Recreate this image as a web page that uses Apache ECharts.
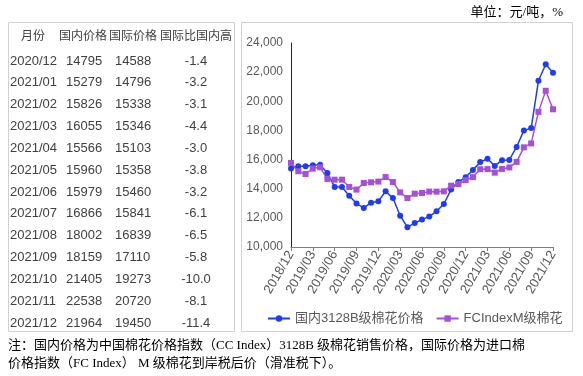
<!DOCTYPE html>
<html>
<head>
<meta charset="utf-8">
<script src="https://cdn.jsdelivr.net/npm/echarts@6/dist/echarts.min.js"></script>
<style>
  html, body { margin: 0; padding: 0; background: #fff; }
  #main { width: 583px; height: 376px; }
</style>
</head>
<body>
<div id="main"></div>
<script>
// 月份（横轴）
const months = [
  '2018/12',
  '2019/01','2019/02','2019/03','2019/04','2019/05','2019/06',
  '2019/07','2019/08','2019/09','2019/10','2019/11','2019/12',
  '2020/01','2020/02','2020/03','2020/04','2020/05','2020/06',
  '2020/07','2020/08','2020/09','2020/10','2020/11','2020/12',
  '2021/01','2021/02','2021/03','2021/04','2021/05','2021/06',
  '2021/07','2021/08','2021/09','2021/10','2021/11','2021/12'
];
// 国内3128B级棉花价格
const domestic = [
  15380, 15540, 15540, 15610, 15650, 15080, 14120, 14120, 13520, 12980,
  12680, 13040, 13140, 13820, 13360, 12150, 11350, 11650, 11880, 12100,
  12450, 12950, 13940, 14460, 14795, 15279, 15826, 16055, 15566, 15960,
  15979, 16866, 18002, 18159, 21405, 22538, 21964
];
// FCIndexM级棉花
const intl = [
  15770, 15200, 15010, 15380, 15470, 14670, 14620, 14620, 14120, 13940,
  14390, 14440, 14490, 14800, 14460, 13750, 13360, 13660, 13710, 13800,
  13800, 13820, 14210, 14325, 14588, 14796, 15338, 15346, 15103, 15358,
  15460, 15841, 16839, 17110, 19273, 20720, 19450
];

// 左侧表格
const tableHead = ['月份', '国内价格', '国际价格', '国际比国内高'];
const tableMonths = ['2020/12','2021/01','2021/02','2021/03','2021/04','2021/05','2021/06',
  '2021/07','2021/08','2021/09','2021/10','2021/11','2021/12'];
const tableDomestic = ['14795','15279','15826','16055','15566','15960','15979',
  '16866','18002','18159','21405','22538','21964'];
const tableIntl = ['14588','14796','15338','15346','15103','15358','15460',
  '15841','16839','17110','19273','20720','19450'];
const tableDiff = ['-1.4','-3.2','-3.1','-4.4','-3.0','-3.8','-3.2',
  '-6.1','-6.5','-5.8','-10.0','-8.1','-11.4'];

const sans = '"Liberation Sans", "Noto Sans CJK SC", sans-serif';
const serif = '"Liberation Serif", "Noto Sans CJK SC", serif';

function buildTable() {
  const els = [];
  const headX = [33, 83, 133, 196];
  tableHead.forEach(function (t, i) {
    els.push({ type: 'text', style: { text: t, x: headX[i], y: 37, align: 'center', verticalAlign: 'middle',
      font: '12px ' + sans, fill: '#404040' } });
  });
  for (let i = 0; i < tableMonths.length; i++) {
    const y = 61 + i * 21.83;
    const cells = [
      { text: tableMonths[i], x: 10, align: 'left' },
      { text: tableDomestic[i], x: 66, align: 'left' },
      { text: tableIntl[i], x: 115, align: 'left' },
      { text: tableDiff[i], x: 196, align: 'center' }
    ];
    cells.forEach(function (c) {
      els.push({ type: 'text', style: { text: c.text, x: c.x, y: y, align: c.align, verticalAlign: 'middle',
        font: '13px ' + sans, fill: '#404040' } });
    });
  }
  return els;
}

const myChart = echarts.init(document.getElementById('main'));
const option = {
  backgroundColor: '#fff',
  animation: false,
  graphic: [
    { type: 'rect', shape: { x: 8.5, y: 22.5, width: 226, height: 309 }, style: { fill: 'none', stroke: '#d0d0d0', lineWidth: 1 } },
    { type: 'rect', shape: { x: 241.5, y: 22.5, width: 331, height: 309 }, style: { fill: 'none', stroke: '#d0d0d0', lineWidth: 1 } },
    { type: 'text', style: { text: '单位：元/吨，%', x: 563, y: 13, align: 'right', verticalAlign: 'middle',
      font: '13px ' + serif, fill: '#000' } },
    { type: 'text', style: { text: '注：国内价格为中国棉花价格指数（CC Index）3128B 级棉花销售价格，国际价格为进口棉',
      x: 8, y: 346, align: 'left', verticalAlign: 'middle', font: '13px ' + serif, fill: '#000' } },
    { type: 'text', style: { text: '价格指数（FC Index） M 级棉花到岸税后价（滑准税下）。',
      x: 8, y: 364, align: 'left', verticalAlign: 'middle', font: '13px ' + serif, fill: '#000' } }
  ].concat(buildTable()),
  grid: { left: 291, right: 30, top: 43, bottom: 129 },
  legend: {
    left: 262,
    top: 307,
    itemWidth: 22,
    itemHeight: 8,
    itemGap: 12,
    textStyle: { fontSize: 13, color: '#595959', fontFamily: sans },
    data: ['国内3128B级棉花价格', 'FCIndexM级棉花']
  },
  xAxis: {
    type: 'category',
    data: months,
    boundaryGap: false,
    axisLine: { lineStyle: { color: '#7f7f7f', width: 1 } },
    axisTick: { interval: 2, length: 4, lineStyle: { color: '#7f7f7f' } },
    axisLabel: { interval: 2, rotate: 60, fontSize: 13, color: '#595959', fontFamily: sans, margin: 5 },
    splitLine: { show: false }
  },
  yAxis: {
    type: 'value',
    min: 10000,
    max: 24000,
    interval: 2000,
    axisLine: { show: true, lineStyle: { color: '#262626', width: 1 } },
    axisTick: { show: false },
    axisLabel: {
      fontSize: 12, color: '#595959', fontFamily: sans, margin: 8,
      formatter: function (v) { return v.toLocaleString('en-US'); }
    },
    splitLine: { show: false }
  },
  series: [
    {
      name: '国内3128B级棉花价格',
      type: 'line',
      data: domestic,
      symbol: 'circle',
      symbolSize: 6,
      showAllSymbol: true,
      color: '#1f3cf5',
      lineStyle: { width: 1.5 }
    },
    {
      name: 'FCIndexM级棉花',
      type: 'line',
      data: intl,
      symbol: 'rect',
      symbolSize: 6,
      showAllSymbol: true,
      color: '#a64fd8',
      lineStyle: { width: 1.5 }
    }
  ]
};
myChart.setOption(option);
</script>
</body>
</html>
